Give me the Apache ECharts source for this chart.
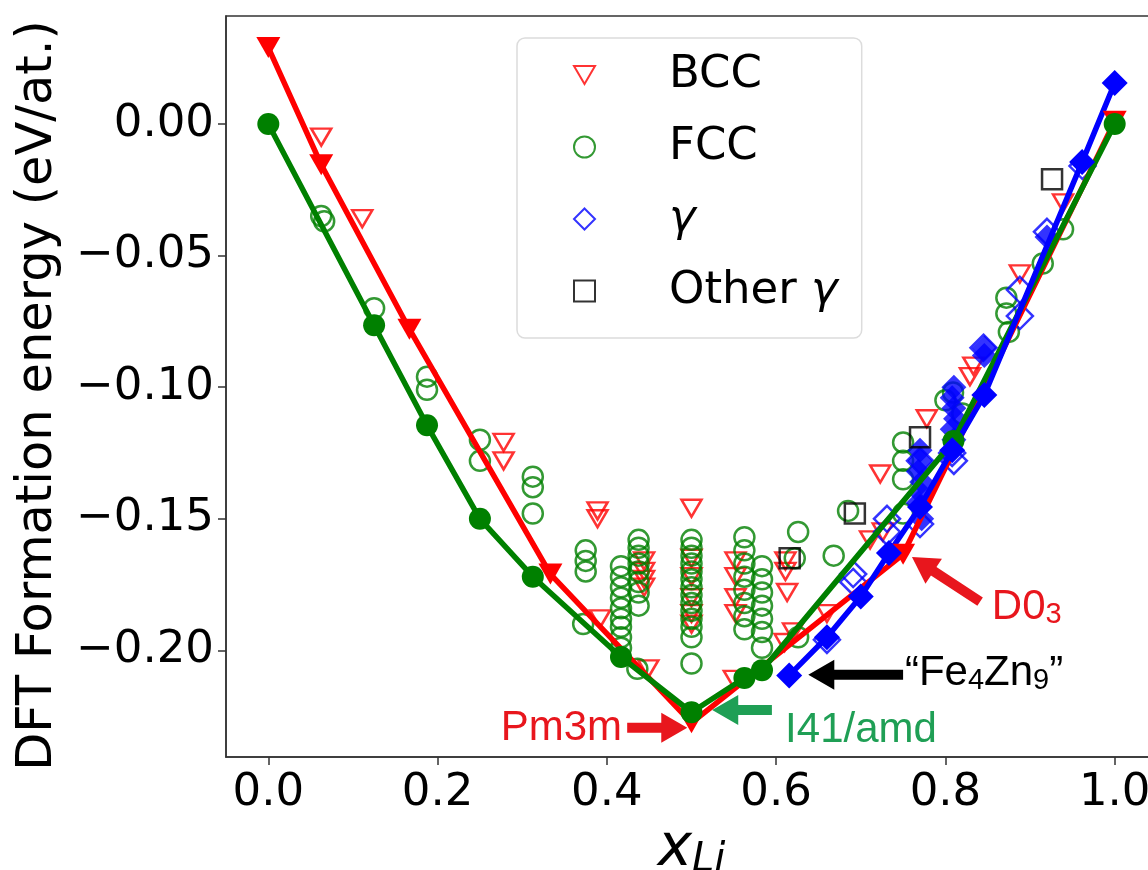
<!DOCTYPE html>
<html><head><meta charset="utf-8">
<script src="https://cdn.jsdelivr.net/npm/echarts@6/dist/echarts.min.js"></script>
<style>html,body{margin:0;padding:0;background:#fff}#c{width:1148px;height:870px}</style>
</head><body><div id="c"></div>
<script>
// ---- tick values & labels ----
const xTicks = [0, 0.2, 0.4, 0.6, 0.8, 1.0];
const xTickLabels = ['0.0', '0.2', '0.4', '0.6', '0.8', '1.0'];
const yTicks = [0, -0.05, -0.10, -0.15, -0.20];
const yTickLabels = ['0.00', '\u22120.05', '\u22120.10', '\u22120.15', '\u22120.20'];

// ---- series data [x_Li, formation energy] ----
const bccOpen = [[0.0625,-0.005],[0.111,-0.036],[0.278,-0.121],[0.278,-0.128],[0.389,-0.147],[0.389,-0.150],
  [0.392,-0.188],[0.444,-0.166],[0.444,-0.170],[0.444,-0.173],[0.444,-0.176],[0.449,-0.207],
  [0.5,-0.146],[0.5,-0.165],[0.5,-0.172],[0.5,-0.180],[0.5,-0.186],[0.5,-0.190],
  [0.552,-0.166],[0.552,-0.172],[0.552,-0.180],[0.552,-0.186],[0.55,-0.211],
  [0.611,-0.166],[0.611,-0.170],[0.613,-0.178],[0.61,-0.197],[0.62,-0.193],[0.66,-0.186],
  [0.711,-0.158],[0.726,-0.155],[0.723,-0.133],[0.778,-0.112],[0.829,-0.096],[0.833,-0.092],
  [0.888,-0.057],[0.939,-0.030]];
const fccOpen = [[0.0625,-0.035],[0.066,-0.037],[0.125,-0.070],[0.1875,-0.096],[0.1875,-0.101],
  [0.25,-0.120],[0.25,-0.128],[0.3125,-0.134],[0.3125,-0.138],[0.3125,-0.148],
  [0.375,-0.162],[0.375,-0.166],[0.375,-0.170],[0.372,-0.190],
  [0.4167,-0.168],[0.4167,-0.172],[0.4167,-0.176],[0.4167,-0.180],[0.4167,-0.184],[0.4167,-0.188],[0.4167,-0.191],[0.4167,-0.195],[0.4167,-0.199],
  [0.4375,-0.158],[0.4375,-0.161],[0.4375,-0.164],[0.4375,-0.167],[0.4375,-0.170],[0.4375,-0.174],[0.4375,-0.178],[0.4375,-0.183],[0.436,-0.207],
  [0.5,-0.158],[0.5,-0.161],[0.5,-0.164],[0.5,-0.167],[0.5,-0.170],[0.5,-0.173],[0.5,-0.176],[0.5,-0.179],[0.5,-0.182],[0.5,-0.185],[0.5,-0.188],[0.5,-0.191],[0.5,-0.195],[0.5,-0.205],
  [0.5625,-0.157],[0.5625,-0.162],[0.5625,-0.167],[0.5625,-0.172],[0.5625,-0.177],[0.5625,-0.182],[0.5625,-0.187],[0.5625,-0.192],
  [0.5833,-0.168],[0.5833,-0.173],[0.5833,-0.178],[0.5833,-0.183],[0.5833,-0.188],[0.5833,-0.193],[0.5833,-0.199],
  [0.626,-0.155],[0.622,-0.165],[0.626,-0.195],[0.668,-0.164],[0.685,-0.147],
  [0.75,-0.121],[0.75,-0.128],[0.75,-0.135],[0.75,-0.148],[0.80,-0.105],[0.809,-0.102],[0.82,-0.110],
  [0.872,-0.066],[0.872,-0.072],[0.875,-0.079],[0.915,-0.053],[0.939,-0.040]];
const gammaOpen = [[0.66,-0.196],[0.691,-0.171],[0.691,-0.174],[0.731,-0.150],[0.731,-0.155],[0.77,-0.128],
  [0.77,-0.152],[0.808,-0.125],[0.81,-0.128],[0.845,-0.085],[0.888,-0.063],[0.888,-0.073],[0.92,-0.041],[0.962,-0.016]];
const gammaFilled = [[0.77,-0.124],[0.77,-0.128],[0.768,-0.132],[0.772,-0.136],[0.77,-0.140],[0.768,-0.144],[0.772,-0.150],
  [0.81,-0.100],[0.808,-0.104],[0.81,-0.108],[0.812,-0.112],[0.808,-0.116],[0.81,-0.120],
  [0.846,-0.085],[0.846,-0.088],[0.92,-0.043]];
const otherGamma = [[0.616,-0.165],[0.693,-0.148],[0.770,-0.119],[0.926,-0.021]];
const bccHull = [[0,0.029],[0.0625,-0.0155],[0.1667,-0.078],[0.3333,-0.171],[0.5,-0.2275],[0.75,-0.1635],[1.0,0.001]];
const fccHull = [[0,0],[0.125,-0.0765],[0.1875,-0.1145],[0.25,-0.150],[0.3125,-0.172],[0.4167,-0.2025],[0.5,-0.2235],
  [0.5625,-0.2105],[0.5833,-0.2075],[0.8095,-0.1205],[1.0,0.0]];
const gammaHull = [[0.6154,-0.2095],[0.66,-0.195],[0.70,-0.1795],[0.7333,-0.163],[0.77,-0.1455],[0.808,-0.124],
  [0.846,-0.103],[0.9615,-0.0145],[1.0,0.0155]];

// ---- annotations (data coordinates) ----
const annotArrows = [
  {from: [0.424, -0.2294], to: [0.495, -0.2294], color: '#e8161d'},
  {from: [0.595, -0.2226], to: [0.5245, -0.2226], color: '#1f9f55'},
  {from: [0.841, -0.1815], to: [0.7605, -0.1645], color: '#e8161d'},
  {from: [0.750, -0.2093], to: [0.638, -0.2093], color: '#000000'}
];
const annotTexts = [
  {at: [0.418, -0.2298], text: 'Pm3m', align: 'right', color: '#e8161d'},
  {at: [0.6106, -0.2305], text: 'I41/amd', align: 'left', color: '#1f9f55'},
  {at: [0.8549, -0.1838], text: 'D0{s|3}', align: 'left', color: '#e8161d'},
  {at: [0.7522, -0.2089], text: '\u201cFe{s|4}Zn{s|9}\u201d', align: 'left', color: '#000000'}
];

const RED = '#ff0000', GREEN = '#008000', BLUE = '#0000ff', BLACK = '#000000';
const chart = echarts.init(document.getElementById('c'), null, {renderer: 'canvas'});
const FONT = 'DejaVu Sans';

function hollow(name, data, symbol, size, color, rot) {
  return {name, type: 'scatter', data, symbol, symbolSize: size, symbolRotate: rot || 0,
    itemStyle: {color: 'rgba(0,0,0,0)', borderColor: color, borderWidth: 2.5},
    emphasis: {disabled: true}, z: 2};
}
function hull(name, data, symbol, size, color, rot) {
  return {name, type: 'line', data, symbol, symbolSize: size, symbolRotate: rot || 0, showSymbol: true, showAllSymbol: true,
    lineStyle: {color, width: 5.5}, itemStyle: {color}, emphasis: {disabled: true}, z: 3};
}

const option = {
  animation: false,
  backgroundColor: '#fff',
  grid: {left: 226, top: 16, width: 931, height: 741, show: true, borderColor: '#333', borderWidth: 1.5,
    backgroundColor: 'transparent', containLabel: false, outerBoundsMode: 'none'},
  xAxis: {
    type: 'value', min: -0.05, max: 1.05, splitNumber: 5,
    axisLine: {show: true, onZero: false, lineStyle: {color: '#333', width: 1.5}},
    axisTick: {show: true, length: 8, customValues: xTicks, lineStyle: {color: '#333', width: 1.5}},
    axisLabel: {customValues: xTicks, margin: 14, fontSize: 45, fontFamily: FONT, color: '#000',
      formatter: v => { const i = xTicks.findIndex(t => Math.abs(t - v) < 1e-9); return i >= 0 ? xTickLabels[i] : ''; }},
    splitLine: {show: false},
    name: '{x|x}{s|Li}', nameLocation: 'middle', nameGap: 44,
    nameTextStyle: {rich: {
      x: {fontSize: 58, fontStyle: 'italic', fontFamily: FONT, color: '#000'},
      s: {fontSize: 40, fontStyle: 'italic', fontFamily: FONT, color: '#000', padding: [22, 0, 0, 0]}}}
  },
  yAxis: {
    type: 'value', min: -0.2405, max: 0.041,
    axisLine: {show: true, onZero: false, lineStyle: {color: '#333', width: 1.5}},
    axisTick: {show: true, length: 8, customValues: yTicks, lineStyle: {color: '#333', width: 1.5}},
    axisLabel: {customValues: yTicks, margin: 12, fontSize: 45, fontFamily: FONT, color: '#000',
      formatter: v => { const i = yTicks.findIndex(t => Math.abs(t - v) < 1e-9); return i >= 0 ? yTickLabels[i] : ''; }},
    splitLine: {show: false},
    name: 'DFT Formation energy (eV/at.)', nameLocation: 'middle', nameRotate: 90, nameGap: 163,
    nameTextStyle: {fontSize: 49.5, fontFamily: FONT, color: '#000', padding: [0, 18, 0, 0]}
  },
  legend: {
    data: [
      {name: 'BCC', icon: 'path://M0,0 L20,0 L10,17 Z'},
      {name: 'FCC'}, {name: '\u03b3'}, {name: 'Other \u03b3'}],
    orient: 'vertical', left: 517, top: 38,
    padding: [14, 24, 24, 56], itemWidth: 21, itemHeight: 21, itemGap: 26,
    borderColor: '#dcdcdc', borderWidth: 1.5, borderRadius: 8, backgroundColor: 'rgba(255,255,255,0.85)',
    selectedMode: false,
    formatter: n => n.replace('\u03b3', '{i|\u03b3}'),
    textStyle: {fontSize: 45, lineHeight: 46, fontFamily: FONT, color: '#000', padding: [0, 0, 0, 69],
      rich: {i: {fontSize: 45, fontStyle: 'italic', fontFamily: FONT, color: '#000'}}}
  },
  series: [
    hollow('BCC', bccOpen, 'triangle', [20, 17], RED, 180),
    hollow('FCC', fccOpen, 'circle', 20, GREEN),
    hollow('\u03b3', gammaOpen, 'diamond', 26, BLUE),
    {name: 'gammaFilled', type: 'scatter', data: gammaFilled, symbol: 'diamond', symbolSize: 25,
      itemStyle: {color: BLUE}, emphasis: {disabled: true}, z: 2},
    hollow('Other \u03b3', otherGamma, 'rect', 20, BLACK),
    hull('BCC hull', bccHull, 'triangle', [24, 21], RED, 180),
    hull('FCC hull', fccHull, 'circle', 22, GREEN),
    hull('gamma hull', gammaHull, 'diamond', 26, BLUE)
  ]
};
chart.setOption(option);

// annotation arrows & texts, positioned from data coordinates
function px(p) { return chart.convertToPixel({gridIndex: 0}, p); }
const graphics = [];
annotArrows.forEach(a => {
  const p0 = px(a.from), p1 = px(a.to);
  const dx = p1[0] - p0[0], dy = p1[1] - p0[1], L = Math.hypot(dx, dy);
  const ux = dx / L, uy = dy / L, nx = -uy, ny = ux;
  const sw = 5, hw = 15, hl = 26;
  const bx = p1[0] - ux * hl, by = p1[1] - uy * hl;
  graphics.push({type: 'polygon', silent: true, z: 10, shape: {points: [
    [p0[0] + nx * sw, p0[1] + ny * sw], [bx + nx * sw, by + ny * sw], [bx + nx * hw, by + ny * hw],
    [p1[0], p1[1]], [bx - nx * hw, by - ny * hw], [bx - nx * sw, by - ny * sw], [p0[0] - nx * sw, p0[1] - ny * sw]]},
    style: {fill: a.color}});
});
annotTexts.forEach(t => {
  const p = px(t.at);
  graphics.push({type: 'text', silent: true, z: 10, x: p[0], y: p[1], style: {
    text: t.text, fill: t.color, fontSize: 42, fontFamily: 'Liberation Sans',
    align: t.align, verticalAlign: 'middle', textAlign: t.align, textVerticalAlign: 'middle',
    rich: {s: {fontSize: 29, fontFamily: 'Liberation Sans', fill: t.color, verticalAlign: 'bottom', padding: [14, 0, 0, 0]}}}});
});
chart.setOption({graphic: graphics});
</script>
</body></html>
